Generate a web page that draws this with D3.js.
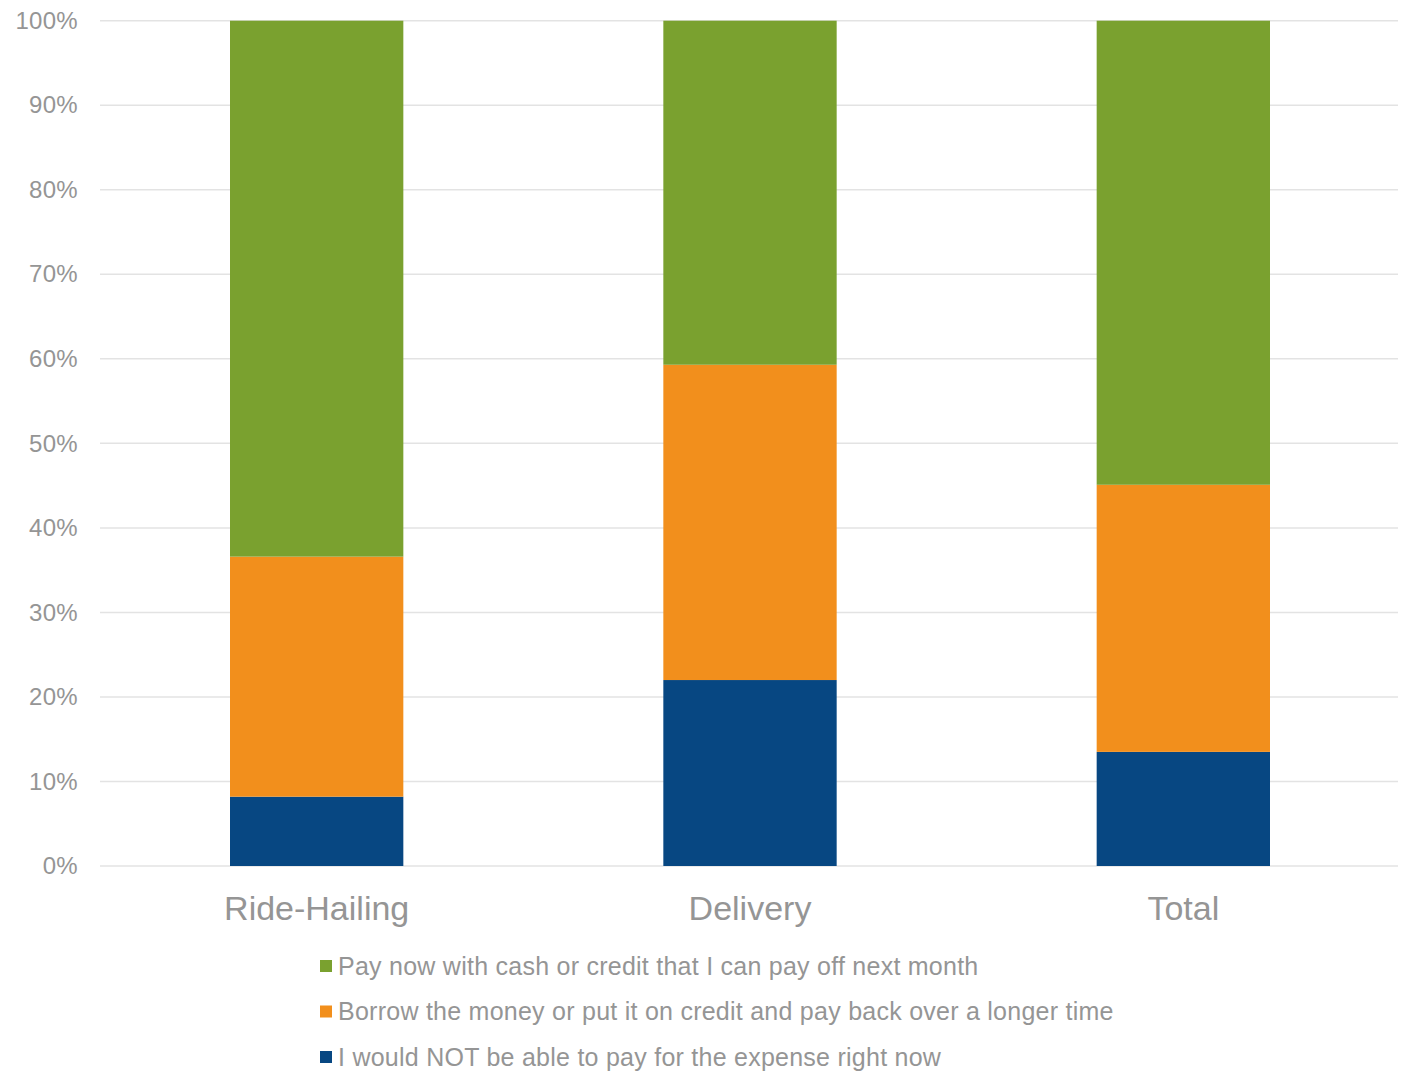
<!DOCTYPE html>
<html><head><meta charset="utf-8">
<script src="https://cdn.jsdelivr.net/npm/d3@7"></script>
<style>body{margin:0;background:#fff}text{font-family:"Liberation Sans",Arial,sans-serif;fill:#959595}</style>
</head><body><svg id="c" width="1405" height="1073"></svg>
<script>
const categories = ["Ride-Hailing","Delivery","Total"];
const seriesNames = ["I would NOT be able to pay for the expense right now","Borrow the money or put it on credit and pay back over a longer time","Pay now with cash or credit that I can pay off next month"];
const notAble = [8.2, 22.0, 13.5];
const borrow = [28.4, 37.3, 31.6];
const payNow = [63.4, 40.7, 54.9];
const yTicks = [0,10,20,30,40,50,60,70,80,90,100];
const colors = ["#074782","#F28F1C","#7AA12F"];

const svg = d3.select("#c");
const x = d3.scaleBand().domain(categories).range([100,1400]).paddingInner(0.6).paddingOuter(0.3);
const y = d3.scaleLinear().domain([0,100]).range([866,20.7]);

const rows = categories.map((c,i)=>({cat:c, s0:notAble[i], s1:borrow[i], s2:payNow[i]}));
const stack = d3.stack().keys(["s0","s1","s2"])(rows);

// gridlines
svg.append("g").selectAll("line").data(yTicks).join("line")
  .attr("x1",100).attr("x2",1398).attr("y1",d=>y(d)).attr("y2",d=>y(d))
  .attr("stroke","#e3e3e3").attr("stroke-width",1.5);

// y labels
const ya = svg.append("g").attr("transform","translate(80,0)").call(d3.axisLeft(y).tickValues(yTicks).tickFormat(d=>d+"%").tickSize(0).tickPadding(2));
ya.select(".domain").remove();
ya.selectAll("text").style("font-size","24px").style("letter-spacing","0.3px").attr("fill","#959595").style("font-family","'Liberation Sans',Arial,sans-serif");

// bars
svg.append("g").selectAll("g").data(stack).join("g").attr("fill",(d,i)=>colors[i])
  .selectAll("rect").data(d=>d).join("rect")
  .attr("x",d=>x(d.data.cat)).attr("width",x.bandwidth())
  .attr("y",d=>y(d[1])).attr("height",d=>y(d[0])-y(d[1]));

// x labels
const xa = svg.append("g").attr("transform","translate(0,866)").call(d3.axisBottom(x).tickSize(0).tickPadding(30));
xa.select(".domain").remove();
xa.selectAll("text").style("font-size","34px").attr("fill","#959595").style("font-family","'Liberation Sans',Arial,sans-serif");

// legend
const legendOrder = [2,1,0];
const lg = svg.append("g").selectAll("g").data(legendOrder).join("g")
  .attr("transform",(d,i)=>`translate(320,${966+i*45.5})`);
lg.append("rect").attr("x",0).attr("y",-6).attr("width",12).attr("height",12).attr("fill",d=>colors[d]);
lg.append("text").attr("x",18).attr("y",0).attr("dy","0.35em").style("font-size","25px").style("letter-spacing","0.25px").text(d=>seriesNames[d]);
</script></body></html>
